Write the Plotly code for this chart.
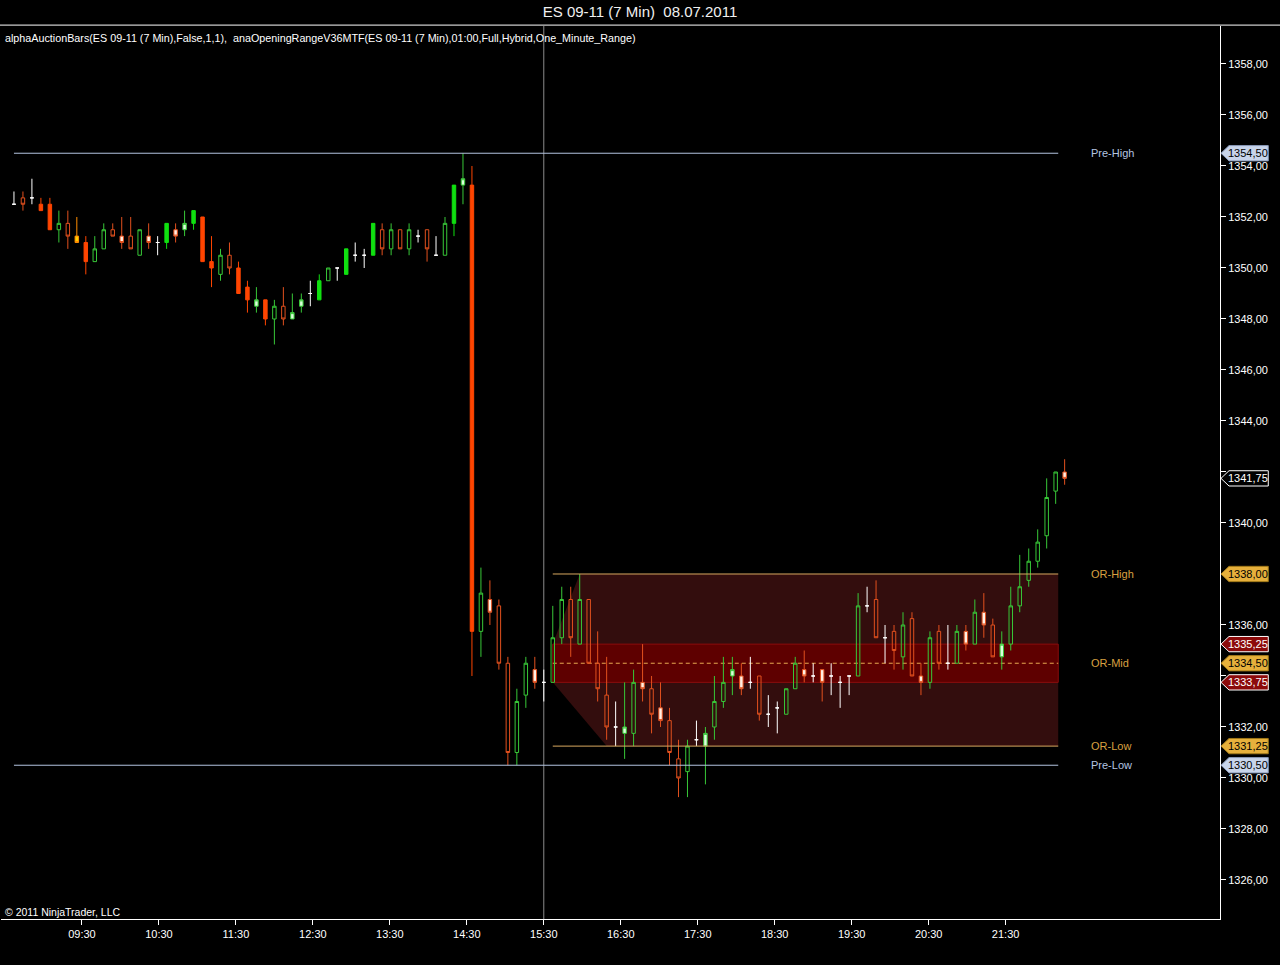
import numpy as np
import pandas as pd
import plotly.graph_objects as go

# ---------------- data (ES 09-11, 7 Min bars, 08.07.2011) ----------------
first_bar_time = "2011-07-08 08:37"

bar_open = [
    1352.5, 1352.75, 1352.75, 1352.5, 1352.5, 1351.5, 1351.75, 1351.25, 1351.0, 1350.25,
    1350.75, 1351.5, 1351.25, 1351.25, 1350.5, 1351.25, 1351.0, 1351.0, 1351.5, 1351.5,
    1351.75, 1352.0, 1350.25, 1349.75, 1350.5, 1350.0, 1349.25, 1348.5, 1348.75, 1348.0,
    1348.5, 1348.0, 1348.5, 1349.0, 1348.75, 1349.5, 1350.0, 1349.75, 1350.5, 1350.5,
    1350.5, 1351.5, 1350.75, 1351.5, 1350.75, 1351.25, 1351.5, 1350.5, 1350.5, 1351.75,
    1353.25, 1353.25, 1335.75, 1337.0, 1336.75, 1334.5, 1331.0, 1333.25, 1334.25, 1333.75,
    1333.75, 1335.5, 1337.0, 1335.25, 1337.0, 1334.5, 1333.25, 1332.0, 1331.75, 1331.75,
    1333.75, 1333.5, 1332.75, 1332.25, 1330.75, 1330.25, 1331.5, 1331.25, 1332.0, 1333.0,
    1334.0, 1334.0, 1333.75, 1334.0, 1332.5, 1332.75, 1332.5, 1333.5, 1334.25, 1334.0,
    1334.25, 1334.0, 1333.75, 1334.0, 1334.0, 1336.75, 1337.0, 1335.5, 1335.75, 1334.75,
    1336.25, 1334.0, 1333.75, 1335.75, 1334.5, 1334.5, 1335.75, 1335.25, 1336.5, 1336.0,
    1334.75, 1335.25, 1336.75, 1337.75, 1338.5, 1339.5, 1341.25, 1342.0,
]
bar_high = [
    1353.0, 1353.0, 1353.5, 1352.75, 1352.75, 1352.25, 1352.25, 1352.0, 1351.25, 1351.25,
    1351.75, 1351.75, 1352.0, 1352.0, 1351.5, 1351.75, 1351.25, 1351.75, 1351.75, 1352.25,
    1352.25, 1352.0, 1351.25, 1350.75, 1351.0, 1350.25, 1349.5, 1349.25, 1348.75, 1348.75,
    1349.25, 1349.0, 1349.0, 1349.5, 1349.75, 1350.0, 1350.0, 1350.75, 1351.0, 1350.75,
    1351.75, 1351.75, 1351.75, 1351.5, 1351.75, 1351.5, 1351.5, 1351.25, 1352.0, 1353.25,
    1354.5, 1354.0, 1338.25, 1337.75, 1337.0, 1334.75, 1333.5, 1334.75, 1334.75, 1334.25,
    1336.75, 1337.5, 1337.5, 1338.0, 1337.0, 1335.75, 1334.75, 1333.0, 1333.75, 1334.25,
    1335.25, 1334.0, 1333.75, 1332.75, 1331.5, 1331.5, 1332.25, 1332.0, 1334.0, 1334.75,
    1334.75, 1334.5, 1334.75, 1334.0, 1333.25, 1333.0, 1333.5, 1334.75, 1335.0, 1334.5,
    1334.25, 1334.5, 1334.0, 1334.0, 1337.25, 1337.5, 1337.75, 1336.0, 1336.0, 1336.5,
    1336.5, 1334.5, 1335.75, 1336.0, 1336.0, 1336.0, 1336.0, 1337.0, 1337.25, 1336.25,
    1335.75, 1337.5, 1338.75, 1339.0, 1339.75, 1341.75, 1342.0, 1342.5,
]
bar_low = [
    1352.5, 1352.25, 1352.5, 1352.25, 1351.5, 1351.0, 1350.75, 1351.0, 1349.75, 1350.25,
    1350.75, 1351.25, 1350.75, 1350.75, 1350.5, 1350.75, 1350.5, 1350.75, 1351.0, 1351.25,
    1351.5, 1350.25, 1349.25, 1349.5, 1349.75, 1349.0, 1348.25, 1348.25, 1347.75, 1347.0,
    1347.75, 1348.0, 1348.25, 1348.5, 1348.75, 1349.5, 1349.5, 1349.75, 1350.25, 1350.0,
    1350.5, 1350.5, 1350.5, 1350.75, 1350.5, 1351.0, 1350.25, 1350.5, 1350.5, 1351.25,
    1352.5, 1334.0, 1334.75, 1336.0, 1334.25, 1330.5, 1330.5, 1332.75, 1333.5, 1333.0,
    1333.75, 1335.25, 1334.75, 1335.25, 1334.5, 1333.0, 1331.5, 1331.25, 1330.75, 1331.25,
    1333.0, 1331.75, 1332.0, 1330.5, 1329.25, 1329.25, 1331.25, 1329.75, 1331.5, 1332.75,
    1333.25, 1333.25, 1333.5, 1332.25, 1332.0, 1331.75, 1332.5, 1333.5, 1333.75, 1333.75,
    1333.0, 1333.25, 1332.75, 1333.25, 1334.0, 1336.5, 1335.5, 1334.5, 1334.25, 1334.25,
    1334.0, 1333.25, 1333.5, 1334.25, 1334.25, 1334.5, 1335.0, 1335.25, 1335.5, 1334.75,
    1334.25, 1335.0, 1336.5, 1337.5, 1338.25, 1339.0, 1340.75, 1341.5,
]
bar_close = [
    1352.5, 1352.5, 1352.75, 1352.25, 1351.5, 1351.75, 1351.25, 1351.0, 1350.25, 1350.75,
    1351.5, 1351.25, 1351.0, 1350.75, 1351.5, 1351.0, 1351.0, 1351.75, 1351.25, 1351.75,
    1352.25, 1350.25, 1350.0, 1350.5, 1350.0, 1349.0, 1348.75, 1348.75, 1348.0, 1348.5,
    1348.0, 1348.25, 1348.75, 1349.0, 1349.5, 1350.0, 1350.0, 1350.75, 1350.5, 1350.5,
    1351.75, 1350.75, 1351.5, 1350.75, 1351.5, 1351.25, 1350.75, 1350.5, 1351.75, 1353.25,
    1353.5, 1335.75, 1337.25, 1336.5, 1334.5, 1331.0, 1333.0, 1334.5, 1333.75, 1333.75,
    1335.5, 1337.0, 1335.5, 1337.0, 1334.5, 1333.5, 1332.0, 1332.0, 1332.0, 1333.75,
    1333.5, 1332.5, 1332.25, 1331.0, 1330.0, 1331.25, 1331.5, 1331.75, 1333.0, 1333.75,
    1334.25, 1333.5, 1333.75, 1332.5, 1332.5, 1332.75, 1333.5, 1334.5, 1334.0, 1334.0,
    1333.75, 1334.0, 1333.75, 1334.0, 1336.75, 1336.75, 1335.5, 1335.5, 1335.0, 1336.0,
    1334.0, 1333.75, 1335.5, 1334.5, 1334.5, 1335.75, 1335.25, 1336.5, 1336.0, 1334.75,
    1335.25, 1336.75, 1337.5, 1338.5, 1339.25, 1341.0, 1342.0, 1341.75,
]
# alphaAuctionBars body type: H hollow, F filled, L light body, Y yellow, D doji
bar_kind = ("DHDFFHHYFH" "HHLHHLDFLL" "FFFHHFFLFH" "HLLDFHDFDD" "FHHHHDHDHF"
            "LFHLHHHHLD" "HHHHHHHDLH" "LHLHHHDLHH" "LLDHDDHHLD" "LDDDHDHDHH"
            "HLHHDHLHLH" "LHHHHHHL")

# levels (anaOpeningRange)
pre_high = 1354.50
pre_low = 1330.50
or_high = 1338.00
or_low = 1331.25
or_mid = 1334.50
or_band_high = 1335.25
or_band_low = 1333.75
last_price = 1341.75

y_tick_values = [1326, 1328, 1330, 1332, 1334, 1336, 1338, 1340, 1342, 1344,
                 1346, 1348, 1350, 1352, 1354, 1356, 1358]
y_ticks_under_tags = [1334, 1342]
x_tick_labels = ["09:30", "10:30", "11:30", "12:30", "13:30", "14:30", "15:30",
                 "16:30", "17:30", "18:30", "19:30", "20:30", "21:30"]
chart_date = "2011-07-08"

title_text = "ES 09-11 (7 Min)  08.07.2011"
indicator_text = ("alphaAuctionBars(ES 09-11 (7 Min),False,1,1),  anaOpeningRangeV36MTF"
                  "(ES 09-11 (7 Min),01:00,Full,Hybrid,One_Minute_Range)")
copyright_text = "© 2011 NinjaTrader, LLC"

# ---------------- build ----------------
FONT = "Liberation Sans, Arial, sans-serif"
o = np.array(bar_open); h = np.array(bar_high)
l = np.array(bar_low); c = np.array(bar_close)
kinds = np.array(list(bar_kind))
times = pd.date_range(first_bar_time, periods=len(bar_open), freq="7min")
direction = np.where(c > o, "up", np.where(c < o, "down", "flat"))

GREEN_LINE = "#38c838"
RED_LINE = "#e2501e"
STYLES = {
    ("up", "H"): (GREEN_LINE, "rgba(0,0,0,0)"),
    ("up", "F"): ("#10e010", "#10e010"),
    ("up", "L"): (GREEN_LINE, "#dcffdc"),
    ("down", "H"): (RED_LINE, "rgba(0,0,0,0)"),
    ("down", "F"): ("#ff4500", "#ff4500"),
    ("down", "L"): (RED_LINE, "#fff0e4"),
    ("down", "Y"): ("#ff8c00", "#ffd200"),
    ("flat", "D"): ("#ffffff", "#ffffff"),
}

t_or_start = times[60]
t_end = times[116] + pd.Timedelta(minutes=2)

def ds(t):
    return pd.Timestamp(t).strftime("%Y-%m-%d_%H:%M:%S")

fig = go.Figure()

for (d, k), (lc, fc) in STYLES.items():
    mask = (direction == d) & (kinds == k)
    if not mask.any():
        continue
    sel = lambda arr: [float(v) if m else None for v, m in zip(arr, mask)]
    style = dict(line=dict(color=lc, width=1), fillcolor=fc)
    fig.add_trace(go.Candlestick(
        x=times, open=sel(o), high=sel(h), low=sel(l), close=sel(c),
        increasing=style, decreasing=style, whiskerwidth=0,
        showlegend=False, hoverinfo="x+y"))

shapes = []
# opening range zone (hybrid build-up over the first hour), below the bars
zone = [(t_or_start, or_band_high), (times[63], or_high), (t_end, or_high),
        (t_end, or_low), (times[66], or_low), (t_or_start, or_band_low)]
zone_path = "M " + " L ".join(f"{ds(t)},{v}" for t, v in zone) + " Z"
shapes.append(dict(type="path", xref="x", yref="y", path=zone_path,
                   fillcolor="#330d0d", line=dict(width=0), layer="below"))
band = [(t_or_start, or_band_high), (t_end, or_band_high),
        (t_end, or_band_low), (t_or_start, or_band_low)]
band_path = "M " + " L ".join(f"{ds(t)},{v}" for t, v in band) + " Z"
shapes.append(dict(type="path", xref="x", yref="y", path=band_path,
                   fillcolor="#5e0000", line=dict(color="#8a0c0c", width=1),
                   layer="below"))

def hline(y, x0, x1, color, dash="solid", layer="above"):
    shapes.append(dict(type="line", xref="x", yref="y", x0=x0, x1=x1, y0=y, y1=y,
                       line=dict(color=color, width=1, dash=dash), layer=layer))

hline(pre_high, times[0], t_end, "#b4c4e0")
hline(pre_low, times[0], t_end, "#b4c4e0")
hline(or_high, t_or_start, t_end, "#d8a860")
hline(or_low, t_or_start, t_end, "#d8a860")
hline(or_mid, t_or_start, t_end, "#e8a850", dash="4px,3px", layer="below")
# session marker
shapes.append(dict(type="line", xref="x", yref="paper", x0=times[59], x1=times[59],
                   y0=0, y1=1, line=dict(color="#8c8c8c", width=1), layer="below"))
# top panel border
shapes.append(dict(type="line", xref="paper", yref="paper", x0=-0.01, x1=1.06,
                   y0=1.001, y1=1.001, line=dict(color="#ffffff", width=1)))

annotations = []
level_labels = [("Pre-High", pre_high, "#b4c4e0"), ("OR-High", or_high, "#d8a040"),
                ("OR-Mid", or_mid, "#d8a040"), ("OR-Low", or_low, "#d8a040"),
                ("Pre-Low", pre_low, "#b4c4e0")]
for txt, yv, col in level_labels:
    annotations.append(dict(x=0.8925, xref="paper", y=yv, yref="y", text=txt,
                            showarrow=False, xanchor="left", yanchor="middle",
                            font=dict(family=FONT, size=11, color=col)))

# price tags on the right axis
def fmt(v):
    return f"{v:.2f}".replace(".", ",")

tags = [(pre_high, "#c8d4ea", "#8898b8", "#000000"),
        (last_price, "#000000", "#ffffff", "#ffffff"),
        (or_high, "#e6b03c", "#a07818", "#000000"),
        (or_band_high, "#8c0a0a", "#ffffff", "#ffffff"),
        (or_mid, "#e6b03c", "#a07818", "#000000"),
        (or_band_low, "#8c0a0a", "#ffffff", "#ffffff"),
        (or_low, "#e6b03c", "#a07818", "#000000"),
        (pre_low, "#c8d4ea", "#8898b8", "#000000")]
hh = 0.30
xa, xb, xe = 1.0008, 1.0074, 1.0396
for v, fc, lc, tc in tags:
    path = (f"M {xa},{v} L {xb},{v + hh} L {xe},{v + hh} L {xe},{v - hh} "
            f"L {xb},{v - hh} Z")
    shapes.append(dict(type="path", xref="paper", yref="y", path=path,
                       fillcolor=fc, line=dict(color=lc, width=1), layer="above"))
    annotations.append(dict(x=(xb + xe) / 2 - 0.0005, xref="paper", y=v, yref="y",
                            text=fmt(v), showarrow=False, xanchor="center",
                            yanchor="middle",
                            font=dict(family=FONT, size=11, color=tc)))

annotations.append(dict(x=0.0015, xref="paper", y=0.9866, yref="paper",
                        text=indicator_text, showarrow=False, xanchor="left",
                        yanchor="middle", font=dict(family=FONT, size=10.75, color="#ffffff")))
annotations.append(dict(x=0.0015, xref="paper", y=0.0078, yref="paper",
                        text=copyright_text, showarrow=False, xanchor="left",
                        yanchor="middle", font=dict(family=FONT, size=10.5, color="#ffffff")))

x_tick_vals = [pd.Timestamp(f"{chart_date} {s}") for s in x_tick_labels]
y_tick_text = ["" if v in y_ticks_under_tags else fmt(v) for v in y_tick_values]

fig.update_layout(
    width=1280, height=965,
    margin=dict(l=1, r=60, t=26, b=46),
    paper_bgcolor="#000000", plot_bgcolor="#000000",
    showlegend=False, boxgap=0.45,
    title=dict(text=title_text, x=0.5, xref="container", xanchor="center",
               y=1 - 12 / 965, yref="container", yanchor="middle",
               font=dict(family=FONT, size=15, color="#f0f0f0")),
    shapes=shapes, annotations=annotations,
    font=dict(family=FONT, size=11, color="#ffffff"),
    xaxis=dict(type="date",
               range=["2011-07-08 08:26:54", "2011-07-09 00:17:06"],
               rangeslider=dict(visible=False),
               tickvals=x_tick_vals, ticktext=x_tick_labels,
               ticks="outside", ticklen=5, tickcolor="#ffffff",
               showline=True, linecolor="#ffffff", linewidth=1,
               showgrid=False, zeroline=False,
               tickfont=dict(family=FONT, size=11, color="#ffffff")),
    yaxis=dict(side="right", range=[1324.47, 1359.49],
               tickvals=y_tick_values, ticktext=y_tick_text,
               ticks="outside", ticklen=5, tickcolor="#ffffff",
               showline=True, linecolor="#ffffff", linewidth=1,
               showgrid=False, zeroline=False,
               tickfont=dict(family=FONT, size=11, color="#ffffff")),
)

fig.write_html("out.html", config={"displayModeBar": False},
               post_script="document.body.style.margin='0';")
